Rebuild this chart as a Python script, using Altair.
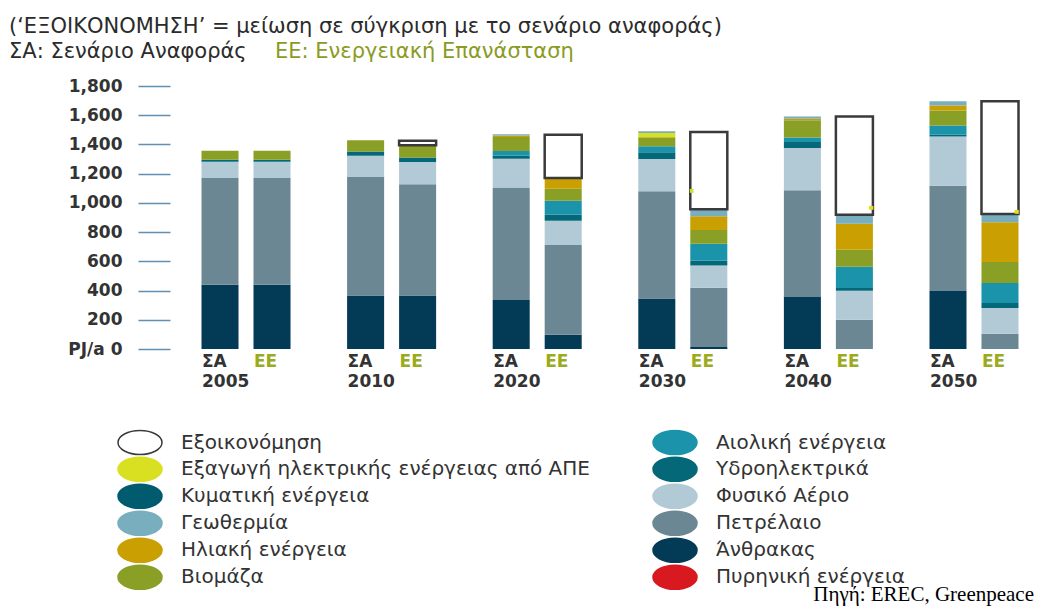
import altair as alt
import pandas as pd

# ---------------- data ----------------
years = ["2005", "2010", "2020", "2030", "2040", "2050"]
scenarios = ["ΣΑ", "ΕΕ"]

# stacking order (bottom -> top)
sources = [
    "Άνθρακας", "Πετρέλαιο", "Φυσικό Αέριο", "Υδροηλεκτρικά", "Κυματική ενέργεια",
    "Αιολική ενέργεια", "Βιομάζα", "Ηλιακή ενέργεια",
    "Εξαγωγή ηλεκτρικής ενέργειας από ΑΠΕ", "Γεωθερμία", "Πυρηνική ενέργεια", "Εξοικονόμηση",
]

# values per bar: 2005ΣΑ, 2005ΕΕ, 2010ΣΑ, 2010ΕΕ, 2020ΣΑ, 2020ΕΕ, 2030ΣΑ, 2030ΕΕ, 2040ΣΑ, 2040ΕΕ, 2050ΣΑ, 2050ΕΕ
coal    = [440, 440, 367, 367, 335,  98, 346,  14, 356,   0, 397,   0]
oil     = [730, 730, 810, 760, 771, 614, 733, 406, 730, 200, 721, 105]
gas     = [112, 112, 146, 153, 196, 166, 222, 152, 290, 199, 337, 175]
hydro   = [ 13,  13,  29,  31,  21,  41,  45,  32,  41,  18,  11,  35]
wave    = [  0,   0,   0,   0,   0,   0,   0,   0,   0,   0,   0,   0]
wind    = [  0,   0,   0,   0,  32,  96,  41, 117,  31, 146,  64, 137]
biomass = [ 62,  62,  76,  83,  96,  82,  62,  93, 117, 117, 103, 144]
solar   = [  0,   0,   0,   0,  11,  73,   0,  94,  11, 178,  34, 271]
export  = [  0,   0,   0,   0,   0,   0,  30,   0,   0,   0,   0,   0]
geo     = [  0,   0,   0,   0,   7,   0,  11,  48,  16,  61,  28,  57]
nuclear = [  0,   0,   0,   0,   0,   0,   0,   0,   0,   0,   0,   0]
savings = [  0,   0,   0,  32,   0, 297,   0, 529,   0, 673,   0, 771]
series = [coal, oil, gas, hydro, wave, wind, biomass, solar, export, geo, nuclear, savings]

# small export markers next to the savings boxes
dot_years = ["2030", "2040", "2050"]
dot_values = [1083, 966, 935]
dot_sides = ["left", "right", "right"]

# legend order (left column, then right column)
legend_order = [
    "Εξοικονόμηση", "Εξαγωγή ηλεκτρικής ενέργειας από ΑΠΕ", "Κυματική ενέργεια",
    "Γεωθερμία", "Ηλιακή ενέργεια", "Βιομάζα",
    "Αιολική ενέργεια", "Υδροηλεκτρικά", "Φυσικό Αέριο",
    "Πετρέλαιο", "Άνθρακας", "Πυρηνική ενέργεια",
]
legend_fill = [
    "#ffffff", "#d9e021", "#005b6f",
    "#79aebe", "#c99f02", "#8a9f25",
    "#1b94ab", "#046878", "#b2c9d6",
    "#6c8794", "#033a55", "#d8191f",
]
legend_stroke = ["#3a3a3a"] + legend_fill[1:]

title_line1 = "(‘ΕΞΟΙΚΟΝΟΜΗΣΗ’ = μείωση σε σύγκριση με το σενάριο αναφοράς)"
title_line2a = "ΣΑ: Σενάριο Αναφοράς"
title_line2b = "ΕΕ: Ενεργειακή Επανάσταση"
source_note = "Πηγή: EREC, Greenpeace"

# ---------------- tables ----------------
rows = []
for si, (src, vals) in enumerate(zip(sources, series)):
    for bi, v in enumerate(vals):
        rows.append({"year": years[bi // 2], "scen": scenarios[bi % 2],
                     "source": src, "value": v, "ord": si})
df = pd.DataFrame(rows)
df_bars = df[df["value"] > 0]

lab_df = pd.DataFrame([{"year": y, "scen": s} for y in years for s in scenarios])
year_df = pd.DataFrame([{"year": y, "scen": scenarios[0]} for y in years])
dots = pd.DataFrame({"year": dot_years, "scen": [scenarios[1]] * 3,
                     "value": dot_values, "side": dot_sides, "m": ["■"] * 3})

FONT = "DejaVu Sans"
ellipse = "M-1,0A1,0.545 0 1,1 1,0A1,0.545 0 1,1 -1,0Z"

x_enc = alt.X("year:N", sort=years, axis=None,
              scale=alt.Scale(paddingInner=0.2857, paddingOuter=0.0962, align=0.857))
xo_enc = alt.XOffset("scen:N", sort=scenarios,
                     scale=alt.Scale(paddingInner=0.288, paddingOuter=0.144))

y_axis = alt.Axis(values=list(range(0, 1801, 200)), format=",",
                  labelExpr="datum.value == 0 ? 'PJ/a 0' : format(datum.value, ',')",
                  labelOverlap=False,
                  domain=False, grid=False, tickSize=32, tickColor="#5f8fb2",
                  tickWidth=1.6, labelPadding=16, labelFont=FONT,
                  labelFontSize=17, labelFontWeight="bold", labelColor="#333333")
y_scale = alt.Scale(domain=[0, 1800], nice=False)

leg = alt.Legend(
    title=None, orient="none", legendX=-53, legendY=343, columns=2,
    symbolType=ellipse, symbolSize=1936, symbolStrokeWidth=1.5, symbolOpacity=1,
    labelFont=FONT, labelFontSize=20, labelColor="#333333", labelOffset=18,
    labelLimit=0, rowPadding=0, clipHeight=26.5, columnPadding=62, padding=0,
)

bars = alt.Chart(df_bars).mark_bar(opacity=1).encode(
    x=x_enc,
    xOffset=xo_enc,
    y=alt.Y("value:Q", stack="zero", title=None, scale=y_scale, axis=y_axis),
    fill=alt.Fill("source:N", scale=alt.Scale(domain=legend_order, range=legend_fill), legend=leg),
    stroke=alt.Stroke("source:N", scale=alt.Scale(domain=legend_order, range=legend_stroke), legend=leg),
    strokeWidth=alt.condition(alt.datum.source == "Εξοικονόμηση", alt.value(2.5), alt.value(0)),
    order=alt.Order("ord:Q"),
)

dot_y = alt.Y("value:Q", stack=None, title=None, scale=y_scale, axis=y_axis)
dot_left = alt.Chart(dots[dots["side"] == "left"]).mark_text(
    fontSize=8, color="#d9e021", dx=-17, baseline="middle").encode(
    x=x_enc, xOffset=xo_enc, y=dot_y, text="m:N")
dot_right = alt.Chart(dots[dots["side"] == "right"]).mark_text(
    fontSize=8, color="#d9e021", dx=17, baseline="middle").encode(
    x=x_enc, xOffset=xo_enc, y=dot_y, text="m:N")

scen_text = alt.Chart(lab_df).mark_text(align="left", dx=-18, baseline="middle", font=FONT,
                                        fontSize=17, fontWeight="bold").encode(
    x=x_enc, xOffset=xo_enc, y=alt.value(276), text="scen:N",
    color=alt.Color("scen:N", scale=alt.Scale(domain=scenarios, range=["#333333", "#9aab1e"]), legend=None),
)
year_text = alt.Chart(year_df).mark_text(align="left", dx=-18, baseline="middle", font=FONT,
                                         fontSize=17, fontWeight="bold", color="#333333").encode(
    x=x_enc, xOffset=xo_enc, y=alt.value(296), text="year:N")

t1 = alt.Chart(pd.DataFrame({"t": [title_line1]})).mark_text(
    align="left", baseline="middle", font=FONT, fontSize=21, color="#2b2b2b").encode(
    x=alt.value(-161), y=alt.value(-59), text="t:N")
t2a = alt.Chart(pd.DataFrame({"t": [title_line2a]})).mark_text(
    align="left", baseline="middle", font=FONT, fontSize=21, color="#2b2b2b").encode(
    x=alt.value(-161), y=alt.value(-34), text="t:N")
t2b = alt.Chart(pd.DataFrame({"t": [title_line2b]})).mark_text(
    align="left", baseline="middle", font=FONT, fontSize=21, color="#8a9b1f").encode(
    x=alt.value(105), y=alt.value(-34), text="t:N")
src = alt.Chart(pd.DataFrame({"t": [source_note]})).mark_text(
    align="right", baseline="alphabetic", font="Liberation Serif", fontSize=21, color="#000000").encode(
    x=alt.value(864), y=alt.value(515), text="t:N")

chart = alt.layer(bars, dot_left, dot_right, scen_text, year_text, t1, t2a, t2b, src).properties(
    width=860, height=263, background="white",
    autosize=alt.AutoSizeParams(type="none"),
    padding={"left": 162, "top": 78, "right": 8, "bottom": 258},
).configure_view(stroke=None)

chart.save("out.html", embed_options={"renderer": "svg", "actions": False})
